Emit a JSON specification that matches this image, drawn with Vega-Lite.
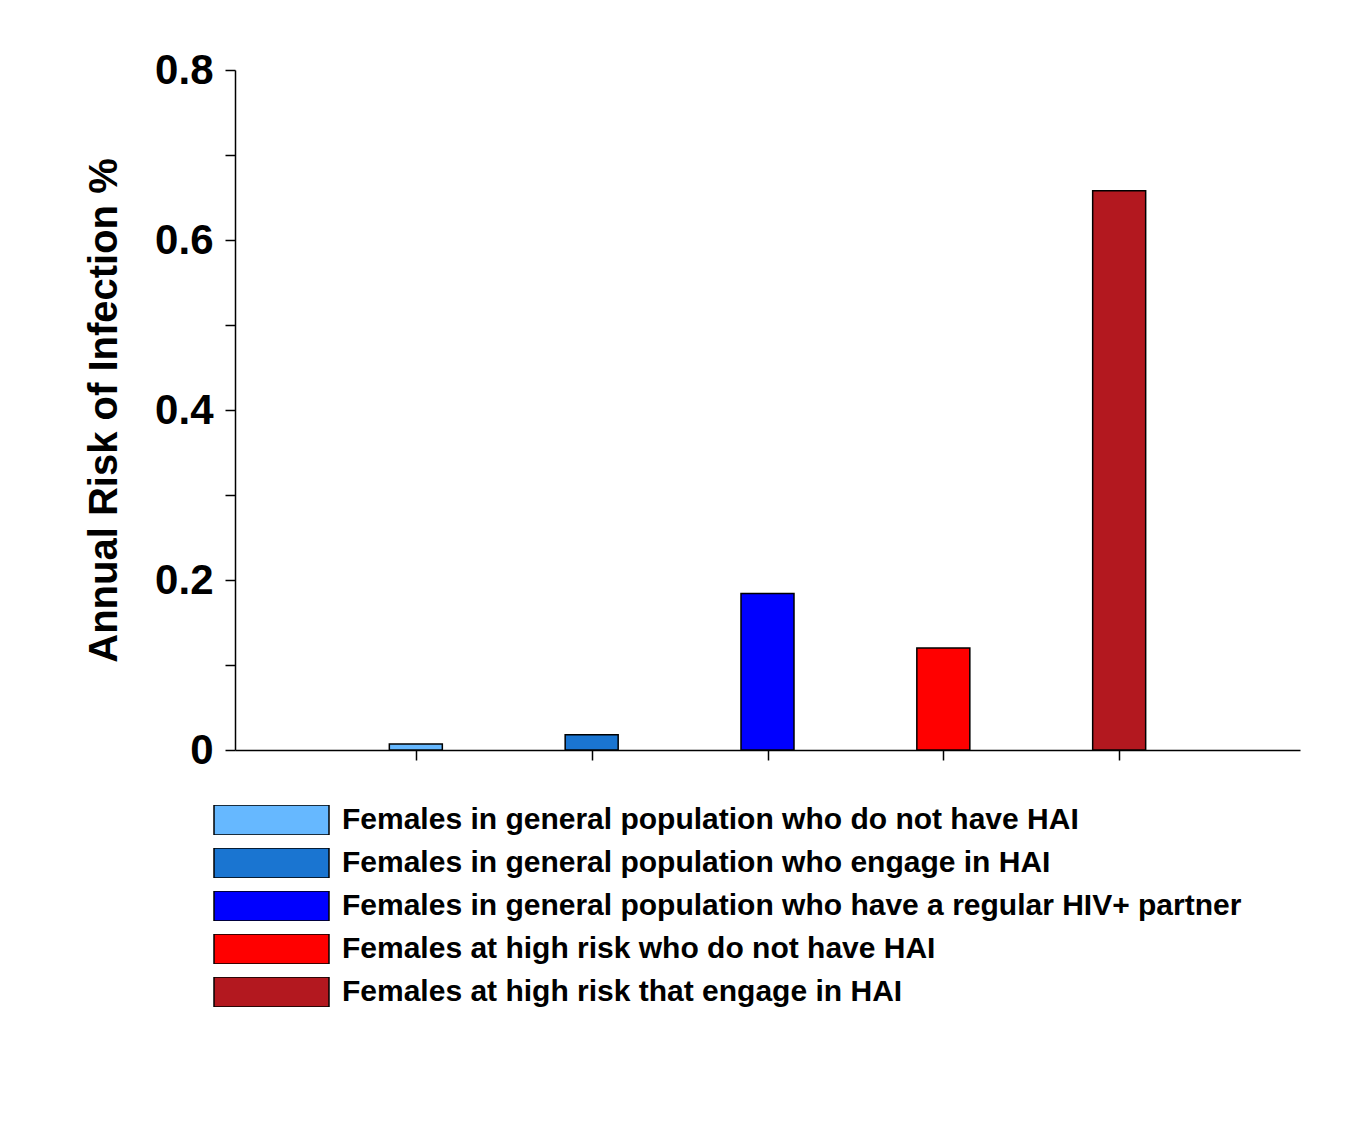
{
  "$schema": "https://vega.github.io/schema/vega-lite/v6.json",
  "width": 1065,
  "height": 680,
  "autosize": "none",
  "padding": {"left": 235, "top": 70, "right": 64, "bottom": 385},
  "background": "white",
  "config": {"view": {"stroke": null}, "font": "Liberation Sans"},
  "data": {"values": [
    {"pos": 1, "group": "Females in general population who do not have HAI", "risk": 0.007},
    {"pos": 2, "group": "Females in general population who engage in HAI", "risk": 0.018},
    {"pos": 3, "group": "Females in general population who have a regular HIV+ partner", "risk": 0.184},
    {"pos": 4, "group": "Females at high risk who do not have HAI", "risk": 0.12},
    {"pos": 5, "group": "Females at high risk that engage in HAI", "risk": 0.658}
  ]},
  "mark": {"type": "bar", "width": 53, "stroke": "black", "strokeWidth": 1.5},
  "encoding": {
    "x": {"field": "pos", "type": "quantitative", "scale": {"domain": [0, 6], "nice": false},
      "axis": {"values": [1, 2, 3, 4, 5], "labels": false, "title": null, "grid": false,
        "domainColor": "black", "domainWidth": 1.5, "tickColor": "black", "tickSize": 10, "tickWidth": 1.5}},
    "y": {"field": "risk", "type": "quantitative", "scale": {"domain": [0, 0.8], "nice": false},
      "axis": {"values": [0, 0.1, 0.2, 0.3, 0.4, 0.5, 0.6, 0.7, 0.8], "grid": false,
        "labelExpr": "datum.value == 0 ? '0' : (round(datum.value*10)%2==0 ? datum.label : '')",
        "labelFontSize": 42, "labelFontWeight": "bold", "labelColor": "black", "labelPadding": 12,
        "domainColor": "black", "domainWidth": 1.5, "tickColor": "black", "tickSize": 10, "tickWidth": 1.5,
        "title": "Annual Risk of Infection %", "titleFontSize": 40, "titleFontWeight": "bold",
        "titleColor": "black", "titlePadding": 30}},
    "color": {"field": "group", "type": "nominal",
      "sort": {"field": "pos"},
      "scale": {"domain": [
        "Females in general population who do not have HAI",
        "Females in general population who engage in HAI",
        "Females in general population who have a regular HIV+ partner",
        "Females at high risk who do not have HAI",
        "Females at high risk that engage in HAI"],
        "range": ["#66b8ff", "#1a75d1", "#0000ff", "#ff0000", "#b3181f"]},
      "legend": {"orient": "none", "legendX": -22, "legendY": 735, "title": null,
        "symbolType": "M-1,-0.26H1V0.26H-1Z", "symbolSize": 13225, "symbolStrokeColor": "black",
        "symbolStrokeWidth": 1.5, "symbolOpacity": 1, "clipHeight": 30,
        "labelFontSize": 30, "labelFontWeight": "bold", "labelColor": "black", "labelLimit": 1200,
        "labelOffset": 12, "rowPadding": 13}}
  }
}
